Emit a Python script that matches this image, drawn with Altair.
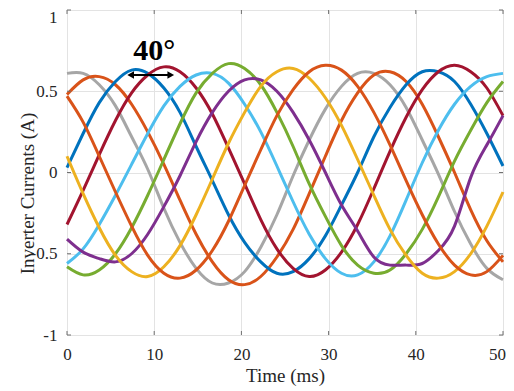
import altair as alt
import pandas as pd

# ---- data ----
time_ms = [0.0, 1.85, 3.70, 5.56, 7.41, 9.26, 11.11, 12.96, 14.81, 16.67,
           18.52, 20.37, 22.22, 24.07, 25.93, 27.78, 29.63, 31.48, 33.33,
           35.19, 37.04, 38.89, 40.74, 42.59, 44.44, 46.30, 48.15, 50.0]

gray = [0.61, 0.61, 0.54, 0.41, 0.22, 0.02, -0.22, -0.43, -0.59, -0.68,
        -0.68, -0.61, -0.46, -0.26, -0.02, 0.20, 0.39, 0.53, 0.61, 0.61,
        0.54, 0.40, 0.20, -0.01, -0.24, -0.44, -0.59, -0.66]
orange_a = [0.48, 0.57, 0.59, 0.54, 0.42, 0.25, 0.05, -0.17, -0.38, -0.55,
            -0.66, -0.69, -0.64, -0.52, -0.35, -0.13, 0.10, 0.32, 0.49, 0.60,
            0.62, 0.56, 0.42, 0.22, 0.00, -0.23, -0.42, -0.55]
blue = [0.03, 0.24, 0.43, 0.56, 0.63, 0.61, 0.52, 0.37, 0.16, -0.05,
        -0.26, -0.43, -0.55, -0.62, -0.61, -0.53, -0.39, -0.20, 0.00, 0.22,
        0.40, 0.54, 0.62, 0.62, 0.56, 0.42, 0.24, 0.04]
red = [-0.32, -0.11, 0.11, 0.32, 0.49, 0.60, 0.65, 0.62, 0.52, 0.36,
       0.15, -0.07, -0.29, -0.47, -0.59, -0.64, -0.60, -0.49, -0.32, -0.10,
       0.13, 0.34, 0.51, 0.62, 0.66, 0.62, 0.52, 0.35]
light_blue = [-0.56, -0.47, -0.32, -0.14, 0.05, 0.24, 0.41, 0.53, 0.60, 0.61,
              0.55, 0.42, 0.25, 0.04, -0.18, -0.38, -0.53, -0.62, -0.63, -0.55,
              -0.39, -0.17, 0.06, 0.26, 0.42, 0.53, 0.59, 0.61]
green = [-0.58, -0.63, -0.60, -0.50, -0.34, -0.14, 0.08, 0.30, 0.49, 0.61,
         0.67, 0.64, 0.54, 0.37, 0.16, -0.07, -0.27, -0.45, -0.57, -0.62,
         -0.60, -0.50, -0.35, -0.15, 0.07, 0.26, 0.43, 0.56]
purple = [-0.41, -0.49, -0.53, -0.55, -0.50, -0.38, -0.21, -0.02, 0.19, 0.37,
          0.50, 0.57, 0.57, 0.50, 0.37, 0.20, 0.00, -0.20, -0.36, -0.52,
          -0.57, -0.57, -0.56, -0.48, -0.33, -0.03, 0.17, 0.35]
yellow = [0.10, -0.13, -0.34, -0.51, -0.61, -0.64, -0.58, -0.45, -0.26, -0.04,
          0.18, 0.37, 0.53, 0.62, 0.64, 0.58, 0.46, 0.29, 0.08, -0.14,
          -0.35, -0.51, -0.62, -0.65, -0.61, -0.50, -0.33, -0.12]
orange_b = [0.47, 0.31, 0.10, -0.12, -0.33, -0.51, -0.62, -0.65, -0.60, -0.48,
            -0.30, -0.08, 0.14, 0.35, 0.51, 0.62, 0.66, 0.63, 0.53, 0.37,
            0.17, -0.05, -0.26, -0.44, -0.57, -0.63, -0.61, -0.51]

series_names = ["gray", "orange_a", "blue", "red", "light_blue", "green",
                "purple", "yellow", "orange_b"]
series_values = [gray, orange_a, blue, red, light_blue, green, purple,
                 yellow, orange_b]
series_colors = ["#a6a6a6", "#d95319", "#0072bd", "#a2142f", "#4dbeee",
                 "#77ac30", "#7e2f8e", "#edb120", "#d95319"]

x_ticks = [0, 10, 20, 30, 40, 50]
y_ticks = [-1, -0.5, 0, 0.5, 1]

label_text = ["40°"]
label_t = [10.0]
label_v = [0.75]
arrow_t = [7.3, 11.9]
arrow_v = [0.6, 0.6]

# ---- chart ----
W, H = 436, 325
FONT = "Liberation Serif"
FRAME = "#707070"

xscale = alt.Scale(domain=[0, 50], nice=False, zero=False)
yscale = alt.Scale(domain=[-1, 1], nice=False, zero=False)

xaxis = alt.Axis(values=x_ticks, title="Time (ms)", grid=True, ticks=False,
                 domain=False, labelPadding=24, labelBaseline="alphabetic",
                 labelFlush=False, labelFont=FONT, labelFontSize=17,
                 labelOffset={"condition": {"test": "datum.value == 50", "value": -6}, "value": 0},
                 titleX=W / 2, titleY=46, titleBaseline="alphabetic",
                 titleAlign="center")
yaxis = alt.Axis(values=y_ticks, title="Inverter Currents (A)", grid=True,
                 ticks=False, domain=False, labelPadding=10, labelFlush=False,
                 labelFont=FONT, labelFontSize=17, labelBaseline="middle",
                 labelOffset={"condition": {"test": "datum.value == 1", "value": 7}, "value": 0},
                 labelExpr="datum.value < 0 ? '-' + format(-datum.value, '~g') : format(datum.value, '~g')",
                 titleAngle=270, titleX=-34, titleY=183,
                 titleBaseline="alphabetic", titleAlign="center")

X = alt.X("t:Q", scale=xscale, axis=xaxis, title="Time (ms)")
Y = alt.Y("v:Q", scale=yscale, axis=yaxis, title="Inverter Currents (A)")

layers = []
for name, vals, col in zip(series_names, series_values, series_colors):
    df = pd.DataFrame({"t": time_ms, "v": vals})
    layers.append(alt.Chart(df).mark_line(color=col, strokeWidth=3,
                                          interpolate="natural").encode(x=X, y=Y))

# inward tick marks (MATLAB style box)
xt = pd.DataFrame({"t": x_ticks})
yt = pd.DataFrame({"v": y_ticks})
TL = 4
layers.append(alt.Chart(xt).mark_rule(color=FRAME, strokeWidth=1).encode(
    x=X, y=alt.value(H), y2=alt.value(H - TL)))
layers.append(alt.Chart(xt).mark_rule(color=FRAME, strokeWidth=1).encode(
    x=X, y=alt.value(0), y2=alt.value(TL)))
layers.append(alt.Chart(yt).mark_rule(color=FRAME, strokeWidth=1).encode(
    y=Y, x=alt.value(0), x2=alt.value(TL)))
layers.append(alt.Chart(yt).mark_rule(color=FRAME, strokeWidth=1).encode(
    y=Y, x=alt.value(W - TL), x2=alt.value(W)))

# 40° annotation with double arrow
arrow_df = pd.DataFrame({"t": [arrow_t[0]], "t2": [arrow_t[1]], "v": [arrow_v[0]]})
layers.append(alt.Chart(arrow_df).mark_rule(color="black", strokeWidth=2).encode(
    x=X, x2="t2:Q", y=Y))
heads = pd.DataFrame({"t": arrow_t, "v": arrow_v,
                      "shape": ["triangle-left", "triangle-right"]})
layers.append(alt.Chart(heads).mark_point(filled=True, color="black", size=60,
                                          opacity=1).encode(
    x=X, y=Y, shape=alt.Shape("shape:N", scale=None, legend=None)))
lab = pd.DataFrame({"t": label_t, "v": label_v, "txt": label_text})
layers.append(alt.Chart(lab).mark_text(font=FONT, fontSize=30, fontWeight="bold",
                                       color="black", baseline="middle",
                                       align="center").encode(
    x=X, y=Y, text="txt:N"))

chart = alt.layer(*layers).properties(
    width=W, height=H,
    autosize=alt.AutoSizeParams(type="none"),
    padding={"left": 59, "top": 2, "right": 3, "bottom": 60},
).configure_view(stroke=FRAME, strokeWidth=1).configure(
    background="white"
).configure_axis(
    labelFont=FONT, labelFontSize=17, labelColor="#262626",
    titleFont=FONT, titleFontSize=19, titleFontWeight="normal",
    titleColor="#262626", gridColor="#e3e3e3", gridWidth=1
)

chart.save("out.html", embed_options={"renderer": "svg", "actions": False})
